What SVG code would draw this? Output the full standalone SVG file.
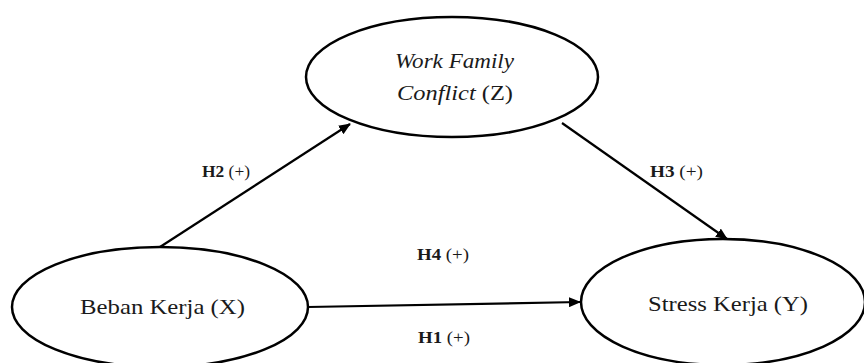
<svg xmlns="http://www.w3.org/2000/svg" width="864" height="363" viewBox="0 0 864 363">
<style>
.node{fill:#fff;stroke:#000;stroke-width:2.5}
.t{font-family:"Liberation Serif","Times New Roman",serif;font-size:21px;fill:#1a1a1a}
.lbl{font-family:"Liberation Serif","Times New Roman",serif;font-size:16px;fill:#1a1a1a}
.edge{stroke:#000;stroke-width:2.2;fill:none;marker-end:url(#ah)}
</style>
<defs>
<marker id="ah" markerWidth="12" markerHeight="10" refX="11" refY="5" orient="auto" markerUnits="userSpaceOnUse">
<path d="M0,0 L12,5 L0,10 Z" fill="#000"/>
</marker>
</defs>
<rect width="864" height="363" fill="#fff"/>
<g id="connectors">
<line class="edge" x1="160" y1="247" x2="350" y2="124"/>
<line class="edge" x1="562" y1="123" x2="727" y2="239"/>
<line class="edge" x1="308" y1="307" x2="580" y2="302"/>
</g>
<g id="node-z">
<ellipse class="node" cx="452" cy="77" rx="146" ry="60"/>
<text class="t" x="395" y="68" font-style="italic" textLength="119" lengthAdjust="spacingAndGlyphs">Work Family</text>
<text class="t" x="397" y="100" textLength="116" lengthAdjust="spacingAndGlyphs"><tspan font-style="italic">Conflict</tspan> (Z)</text>
</g>
<g id="node-x">
<ellipse class="node" cx="160" cy="307" rx="148" ry="60"/>
<text class="t" x="80" y="314" textLength="165" lengthAdjust="spacingAndGlyphs">Beban Kerja (X)</text>
</g>
<g id="node-y">
<ellipse class="node" cx="723" cy="302" rx="142" ry="63"/>
<text class="t" x="648" y="311" textLength="160" lengthAdjust="spacingAndGlyphs">Stress Kerja (Y)</text>
</g>
<g id="labels">
<text class="lbl" x="202" y="177" textLength="48" lengthAdjust="spacingAndGlyphs"><tspan font-weight="bold">H2</tspan>  (+)</text>
<text class="lbl" x="650" y="177" textLength="53" lengthAdjust="spacingAndGlyphs"><tspan font-weight="bold">H3</tspan>  (+)</text>
<text class="lbl" x="417" y="260" textLength="52" lengthAdjust="spacingAndGlyphs"><tspan font-weight="bold">H4</tspan>  (+)</text>
<text class="lbl" x="418" y="343" textLength="52" lengthAdjust="spacingAndGlyphs"><tspan font-weight="bold">H1</tspan>  (+)</text>
</g>
</svg>
